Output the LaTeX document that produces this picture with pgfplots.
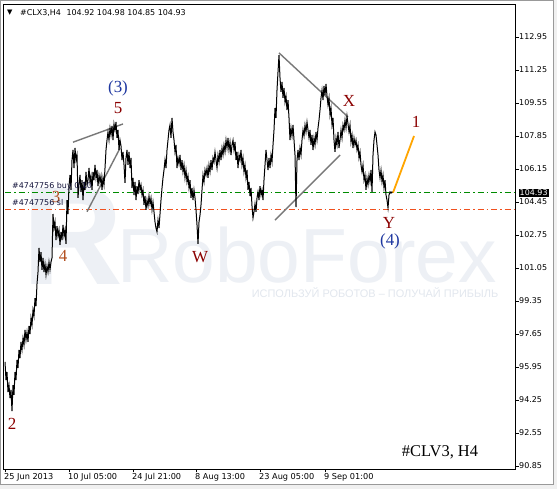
\documentclass[border=0pt]{standalone}
\usepackage{pgfplots}
\pgfplotsset{compat=1.18}
\usepackage{pgfplotstable}
\usepackage{fontspec}
\setmainfont{DejaVu Sans}
\newfontfamily\wavefont{Liberation Serif}
\newfontfamily\wmfont{Liberation Sans}

\definecolor{wavered}{RGB}{139,0,0}
\definecolor{waveorange}{RGB}{178,78,30}
\definecolor{waveblue}{RGB}{30,55,160}
\definecolor{buygreen}{RGB}{0,140,0}
\definecolor{slred}{RGB}{240,80,30}
\definecolor{trigray}{RGB}{120,120,120}
\definecolor{wmcolor}{RGB}{237,240,245}
\definecolor{wmtag}{RGB}{226,231,238}
\definecolor{targetorange}{RGB}{255,165,0}
\definecolor{ordertext}{RGB}{20,20,60}

% H4 closes, x = bar position on the time axis
\pgfplotstableread{
x y
5 96.21
6 95.28
7 95.69
8 94.66
9 95.02
10 94.35
11 94.77
12 93.68
13 95.02
14 94.51
15 95.69
16 95.28
17 96.31
18 95.90
19 96.83
20 96.41
21 97.24
22 96.83
23 97.44
24 97.08
25 97.86
26 97.34
27 97.75
28 97.24
29 98.06
30 97.65
31 98.47
32 98.11
33 98.89
34 98.58
35 99.50
36 99.09
37 100.23
38 100.84
39 102.08
40 101.36
41 101.87
42 100.95
43 101.57
44 100.84
45 101.26
46 100.69
47 101.15
48 100.84
49 101.36
50 100.95
51 101.36
52 101.57
53 103.83
54 103.11
55 103.42
56 102.49
57 103.21
58 102.70
59 103.01
60 102.24
61 102.91
62 102.49
63 103.27
64 102.70
65 103.01
66 102.29
67 104.55
68 103.83
69 105.27
70 105.84
71 105.07
72 106.61
73 107.13
74 106.20
75 107.23
76 106.61
77 106.87
78 104.66
79 105.33
80 105.84
81 104.97
82 105.58
83 104.55
84 105.48
85 105.07
86 106.00
87 105.33
88 105.58
89 106.20
90 105.48
91 105.79
92 105.07
93 106.00
94 105.58
95 106.36
96 105.69
97 106.10
98 105.27
99 105.84
100 105.48
101 105.79
102 105.07
103 105.69
104 105.33
105 106.20
106 107.13
107 107.64
108 108.06
109 107.64
110 108.26
111 107.90
112 108.37
113 107.64
114 108.47
115 108.16
116 108.57
117 107.75
118 108.16
119 107.13
120 107.64
121 107.34
122 106.61
123 107.03
124 106.36
125 105.43
126 106.72
127 107.13
128 106.36
129 107.03
130 106.20
131 106.72
132 105.17
133 105.69
134 104.81
135 105.48
136 104.55
137 105.27
138 104.86
139 105.58
140 105.07
141 105.33
142 104.81
143 105.07
144 104.30
145 104.76
146 104.04
147 104.55
148 104.24
149 104.76
150 104.35
151 104.66
152 104.04
153 104.45
154 103.94
155 103.42
156 103.11
157 102.91
158 103.52
159 103.11
160 103.83
161 104.55
162 105.17
163 105.69
164 106.10
165 106.61
166 106.20
167 107.13
168 107.64
169 108.16
170 108.42
171 107.75
172 108.78
173 108.06
174 107.64
175 107.03
176 107.39
177 106.20
178 106.72
179 106.41
180 106.87
181 106.10
182 106.61
183 106.00
184 106.36
185 105.69
186 106.10
187 105.48
188 105.79
189 105.17
190 105.58
191 104.66
192 105.17
193 104.55
194 105.07
195 104.66
196 104.04
197 103.27
198 102.29
199 103.42
200 103.78
201 104.30
202 105.07
203 105.84
204 105.48
205 106.10
206 105.84
207 106.20
208 105.69
209 106.36
210 106.00
211 106.61
212 106.10
213 106.72
214 106.51
215 107.03
216 106.61
217 106.20
218 106.87
219 106.51
220 107.13
221 106.61
222 107.23
223 106.87
224 107.39
225 107.03
226 107.64
227 107.23
228 107.75
229 107.13
230 107.54
231 106.87
232 107.39
233 107.64
234 107.13
235 107.54
236 106.61
237 107.03
238 106.20
239 106.87
240 106.61
241 107.13
242 106.36
243 106.72
244 106.00
245 106.36
246 105.69
247 106.10
248 105.07
249 105.48
250 104.76
251 105.17
252 104.24
253 103.63
254 103.94
255 104.35
256 103.94
257 104.66
258 104.97
259 104.55
260 105.27
261 104.81
262 105.07
263 104.55
264 105.58
265 106.36
266 107.13
267 106.61
268 106.10
269 106.72
270 106.20
271 106.87
272 106.51
273 107.39
274 108.16
275 109.29
276 108.78
277 110.22
278 111.15
279 112.02
280 110.84
281 110.12
282 110.63
283 109.81
284 110.32
285 109.60
286 109.91
287 109.19
288 109.70
289 108.78
290 107.64
291 108.26
292 107.85
293 108.42
294 107.64
295 106.87
296 104.19
297 106.61
298 107.13
299 106.61
300 107.23
301 106.87
302 107.64
303 108.16
304 107.85
305 108.42
306 108.06
307 108.57
308 108.16
309 107.75
310 108.16
311 107.39
312 107.90
313 107.13
314 107.75
315 107.39
316 108.06
317 107.64
318 108.26
319 108.67
320 109.19
321 109.81
322 110.22
323 109.70
324 110.43
325 109.96
326 110.53
327 109.91
328 109.45
329 109.81
330 108.93
331 109.29
332 108.42
333 108.78
334 107.64
335 107.03
336 107.75
337 107.39
338 108.06
339 107.23
340 107.64
341 108.16
342 107.75
343 108.42
344 108.16
345 108.67
346 108.26
347 108.88
348 108.47
349 108.06
350 108.42
351 107.54
352 107.90
353 107.23
354 107.75
355 107.39
356 107.64
357 107.13
358 107.39
359 106.72
360 107.03
361 106.36
362 106.00
363 106.36
364 105.58
365 105.84
366 105.07
367 105.69
368 105.33
369 105.84
370 105.48
371 106.10
372 104.97
373 106.87
374 107.64
375 108.06
376 107.90
377 107.39
378 106.87
379 106.10
380 105.69
381 106.10
382 105.48
383 105.84
384 105.17
385 105.58
386 104.81
387 104.55
388 104.14
389 104.81
390 104.97
391 104.91
392 104.97
393 104.93
}\pricedata

\begin{document}
\begin{tikzpicture}[x=1bp,y=1bp]
\useasboundingbox (0,0) rectangle (557,489);
% window frame
\fill[black!6] (0,0) rectangle (557,489);
\fill[white] (1,5) rectangle (553,488);
\draw[black!40, line width=0.8bp] (0.5,4.5) -- (0.5,488.5) -- (553.5,488.5) -- (553.5,4.5) -- cycle;

% watermark
\node[anchor=base west, inner sep=0pt, text=wmcolor, font=\wmfont\bfseries\fontsize{140}{140}\selectfont] at (22,204) {R};
\node[anchor=base west, inner sep=0pt, text=wmcolor, font=\wmfont\fontsize{77}{77}\selectfont] at (117,206) {RoboForex};
\node[inner sep=0pt, text=wmtag, font=\wmfont\fontsize{11}{12}\selectfont] at (375,196) {ИСПОЛЬЗУЙ РОБОТОВ – ПОЛУЧАЙ ПРИБЫЛЬ};

% plot box placed with absolute lengths
\begin{axis}[
  at={(3.5bp,19.5bp)}, anchor=south west,
  scale only axis, width=512bp, height=465bp,
  xmin=3.5, xmax=515.5, ymin=90.670, ymax=114.624,
  clip=false,
  axis line style={black, line width=0.8bp},
  tick align=outside, major tick length=3bp,
  tick style={black, line width=0.6bp},
  xtick pos=left, ytick pos=right, yticklabel pos=right,
  xtick={5,69,133,196,260,325},
  xticklabels={25 Jun 2013,10 Jul 05:00,24 Jul 21:00,8 Aug 13:00,23 Aug 05:00,9 Sep 01:00},
  xticklabel style={anchor=north west, inner sep=0pt, xshift=-1bp, yshift=-1bp, font=\fontsize{8.2}{10}\selectfont},
  ytick={90.85,92.55,94.25,95.95,97.65,99.35,101.05,102.75,104.45,106.15,107.85,109.55,111.25,112.95},
  yticklabels={90.85,92.55,94.25,95.95,97.65,99.35,101.05,102.75,104.45,106.15,107.85,109.55,111.25,112.95},
  yticklabel style={anchor=west, inner sep=0pt, xshift=0.5bp, font=\fontsize{8}{10}\selectfont},
]
% order levels
\addplot[buygreen, line width=1.2bp, dash pattern=on 6bp off 3bp on 1.5bp off 3bp] coordinates {(5,104.93) (515,104.93)};
\addplot[slred, line width=1.2bp, dash pattern=on 6bp off 3bp on 1.5bp off 3bp] coordinates {(5,104.08) (515,104.08)};

% triangle boundaries
\addplot[trigray, line width=1.4bp] coordinates {(73,107.53) (123,108.47)};
\addplot[trigray, line width=1.4bp] coordinates {(87,103.95) (120,107.22)};
\addplot[trigray, line width=1.4bp] coordinates {(279,112.13) (348,108.83)};
\addplot[trigray, line width=1.4bp] coordinates {(275,103.52) (340,106.87)};

% price
\addplot[black, line width=1bp] table[x=x, y=y] {\pricedata};

% projected wave
\addplot[targetorange, line width=1.8bp] coordinates {(393,104.93) (414,107.85)};

% wave labels
\begin{scope}[every node/.style={inner sep=0pt, font=\wavefont\fontsize{17}{17}\selectfont}]
\node[text=waveblue] at (axis cs:118,110.32) {(3)};
\node[text=wavered] at (axis cs:118,109.29) {5};
\node[text=waveorange] at (axis cs:56,104.71) {3};
\node[text=waveorange] at (axis cs:63,101.67) {4};
\node[text=wavered] at (axis cs:12,93.01) {2};
\node[text=wavered] at (axis cs:200,101.62) {W};
\node[text=wavered] at (axis cs:349,109.65) {X};
\node[text=wavered] at (axis cs:389,103.37) {Y};
\node[text=waveblue] at (axis cs:390,102.44) {(4)};
\node[text=wavered] at (axis cs:416,108.57) {1};
\end{scope}

% last price tag
\node[anchor=west, xshift=3bp, fill=black, text=white, inner sep=1bp, font=\fontsize{8}{9}\selectfont] at (axis cs:515.5,104.93) {104.93};
\end{axis}

% order captions
\node[anchor=west, inner sep=0pt, text=ordertext, font=\fontsize{8}{9}\selectfont] at (12,303) {\#4747756 buy 0.10};
\node[anchor=west, inner sep=0pt, text=ordertext, font=\fontsize{8}{9}\selectfont] at (12,286) {\#4747756 sl};

% header line
\node[anchor=west, inner sep=0pt, font=\fontsize{7}{8}\selectfont] at (7,476) {▼};
\node[anchor=west, inner sep=0pt, font=\fontsize{8}{9}\selectfont] at (20,476) {\#CLX3,H4\hspace{0.7em}104.92 104.98 104.85 104.93};

% symbol caption
\node[inner sep=0pt, font=\wavefont\fontsize{16.5}{17}\selectfont] at (440,37) {\#CLV3, H4};
\end{tikzpicture}
\end{document}
